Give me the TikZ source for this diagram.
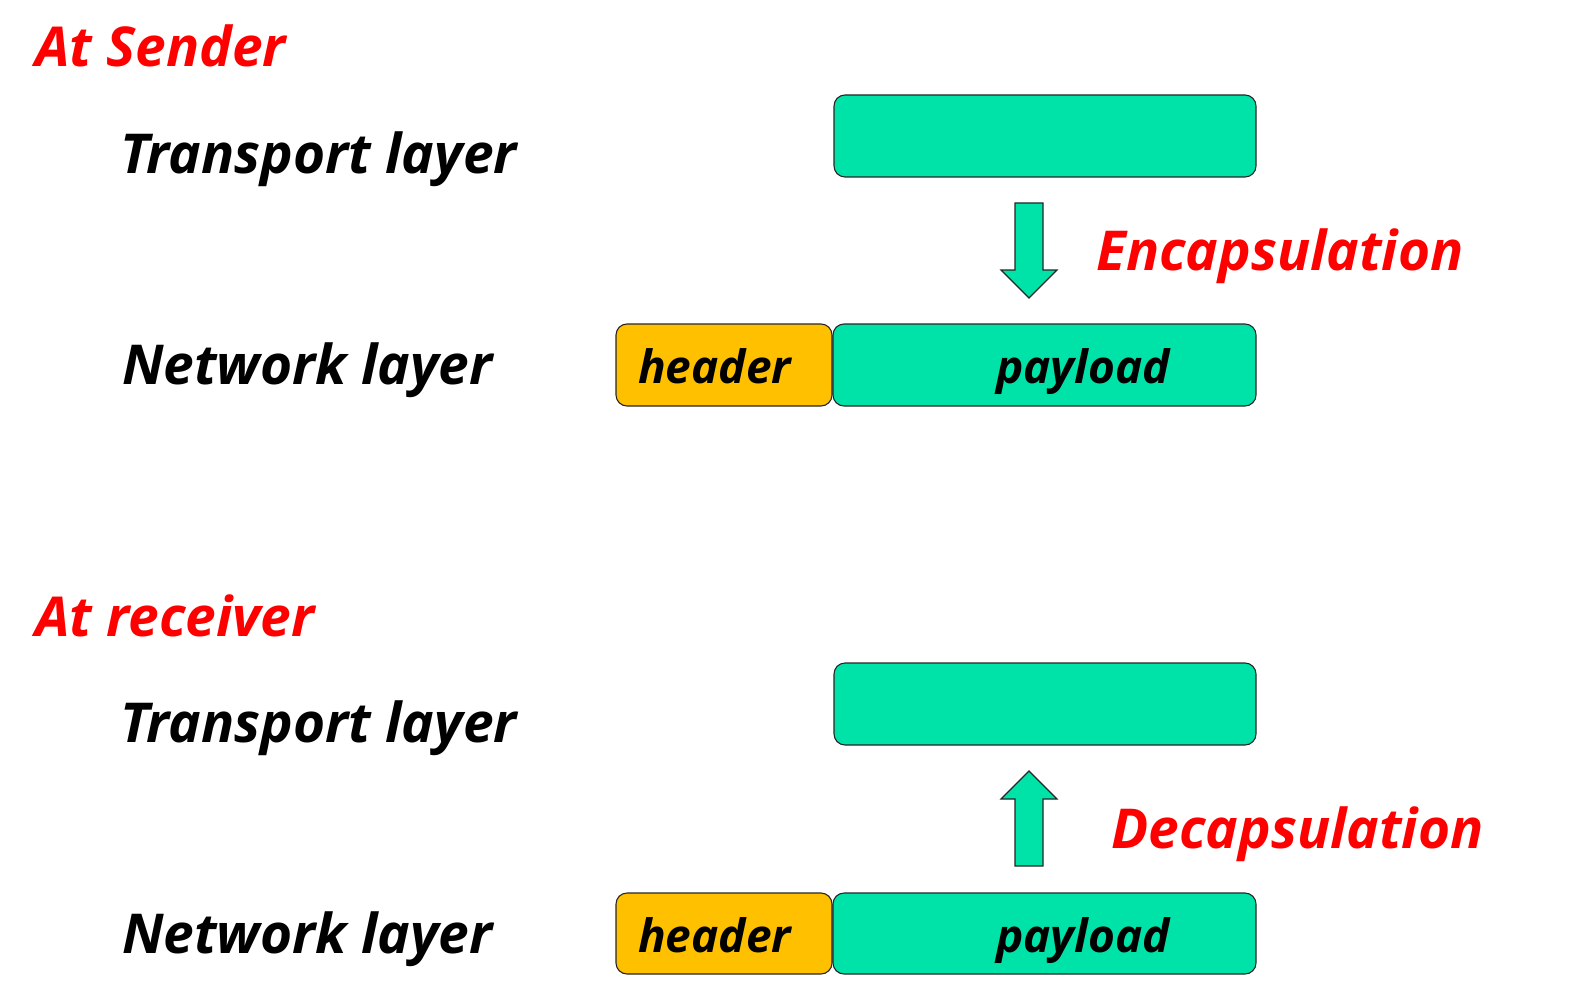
\documentclass[tikz,border=0pt]{standalone}
\usepackage{fontspec}
\setmainfont{Open Sans}
\definecolor{teal1}{RGB}{0,227,168}
\definecolor{hdr}{RGB}{255,192,0}
\definecolor{redt}{RGB}{255,0,0}
\begin{document}
\begin{tikzpicture}[x=1pt,y=-1pt,
  lbl/.style={anchor=base west,inner sep=0pt,font=\fontsize{55}{60}\selectfont\bfseries\itshape},
  redlbl/.style={lbl,text=redt},
  inlbl/.style={lbl,font=\fontsize{46}{50}\selectfont\bfseries\itshape},
  box/.style={draw=black!85,line width=1.1pt,rounded corners=11pt},
  pl/.style={box,fill=teal1},
  hd/.style={box,fill=hdr},
  blockarrow/.style={draw=black!85,line width=1.1pt,fill=teal1}]
\useasboundingbox (0,0) rectangle (1570,1000);
% sender
\node[redlbl] (atsender) at (35,67) {At Sender};
\node[lbl] (tl1) at (120,174) {Transport layer};
\node[lbl] (nl1) at (122,384) {Network layer};
\draw[pl] (834,95) rectangle (1256,177);
\draw[hd] (616,324) rectangle (832,406);
\draw[pl] (833,324) rectangle (1256,406);
\node[inlbl] (h1) at (638,383) {header};
\node[inlbl] (p1) at (996,383) {payload};
\draw[blockarrow] (1015,203) -- (1043,203) -- (1043,270) -- (1057,270) -- (1029,298) -- (1001,270) -- (1015,270) -- cycle;
\node[redlbl] (enc) at (1096,270) {Encapsulation};
% receiver
\node[redlbl] (atrecv) at (35,636) {At receiver};
\node[lbl] (tl2) at (120,742) {Transport layer};
\node[lbl] (nl2) at (122,953) {Network layer};
\draw[pl] (834,663) rectangle (1256,745);
\draw[hd] (616,893) rectangle (832,974);
\draw[pl] (833,893) rectangle (1256,974);
\node[inlbl] (h2) at (638,952) {header};
\node[inlbl] (p2) at (996,952) {payload};
\draw[blockarrow] (1015,866) -- (1043,866) -- (1043,799) -- (1057,799) -- (1029,771) -- (1001,799) -- (1015,799) -- cycle;
\node[redlbl] (dec) at (1111,848) {Decapsulation};
\end{tikzpicture}
\end{document}
